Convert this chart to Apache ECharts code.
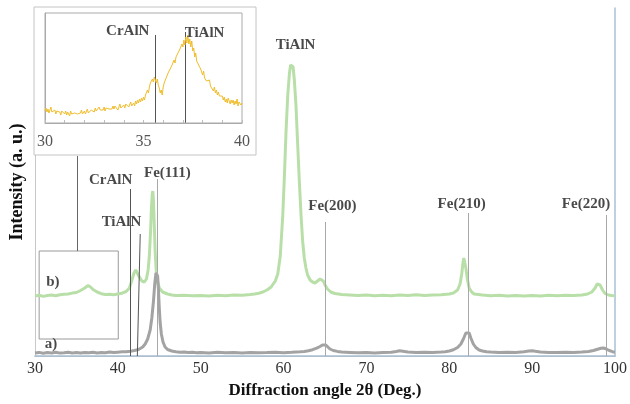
<!DOCTYPE html>
<html>
<head>
<meta charset="utf-8">
<script src="https://cdn.jsdelivr.net/npm/echarts@6/dist/echarts.min.js"></script>
<style>html,body{margin:0;padding:0;background:#fff}#c{width:630px;height:404px}</style>
</head>
<body>
<div id="c"></div>
<script>
// ---- data (2θ in degrees, intensity in arbitrary units) ----
const angleA = [30,30.5,31,31.5,32,32.5,33,33.5,34,34.5,35,35.5,36,36.5,37,37.5,38,38.5,39,39.5,40,40.5,41,41.5,42,42.5,43,43.3,43.6,43.9,44.1,44.3,44.45,44.6,44.7,44.8,44.9,45.0,45.1,45.25,45.45,45.7,46,46.5,47,47.5,48,48.5,49,49.5,50,51,52,53,54,55,56,57,58,59,60,61,62,62.5,63,63.5,64,64.4,64.7,64.9,65.1,65.3,65.6,66,66.5,67,68,69,70,71,72,73,73.6,74,74.4,75,76,77,78,79,79.5,80,80.5,81,81.4,81.7,82,82.2,82.4,82.6,82.9,83.2,83.6,84,84.5,85,86,87,88,89,89.6,90,90.4,91,92,93,94,95,96,96.8,97.4,97.9,98.3,98.6,98.9,99.3,99.7,100];
const intensityA = [3,3.6,2.8,3.4,3,3.7,2.9,3.3,3.8,3.1,3.5,2.9,3.6,3.2,3.8,3.1,3.6,3.3,3.9,3.4,3.8,4.2,4.3,4.8,5.5,6.5,9,12,17,26,38,55,72,83,85,80,66,48,34,22,14,9,6.5,5,4.3,3.8,4,3.4,3.8,3.2,3.6,3.1,3.7,3.2,3.5,3,3.6,3.2,3.4,3.8,3.3,3.7,4.2,4.5,5.2,6.3,7.8,9.5,11,12.5,11,9,7,5.5,4.6,4,3.6,3.2,3.5,3.1,3.6,3.8,4.6,5.2,4.8,3.9,3.4,3.7,3.4,3.9,4.3,5,6.2,8.5,12,17,23,25,23,18,12,8.5,6,5,4.3,3.9,3.5,3.8,3.6,4.3,5,5.3,4.8,4.1,3.6,3.4,3.8,3.5,4,4.6,5.5,6.8,7.8,8,7.2,5.5,4.3,3.8];

const angleB = [30,30.5,31,31.5,32,32.5,33,33.5,34,34.5,35,35.5,36,36.4,36.7,37,37.5,38,38.5,39,39.5,40,40.5,41,41.4,41.7,41.95,42.15,42.35,42.6,42.9,43.2,43.45,43.65,43.8,43.95,44.05,44.15,44.22,44.3,44.4,44.5,44.62,44.8,45.0,45.4,46,46.5,47,48,49,50,51,52,53,54,55,56,56.5,57,57.5,58,58.5,59,59.3,59.6,59.9,60.1,60.3,60.5,60.7,60.85,61.0,61.15,61.3,61.5,61.7,61.9,62.1,62.3,62.5,62.7,62.9,63.2,63.5,63.8,64.1,64.4,64.6,64.8,65.0,65.3,65.7,66.2,67,68,69,70,71,72,73,74,75,76,77,78,79,80,80.5,81,81.3,81.5,81.65,81.75,81.85,82.0,82.2,82.4,82.7,83,84,85,86,87,88,89,90,91,92,93,94,95,96,96.7,97.2,97.6,97.85,98.0,98.2,98.5,98.8,99.2,99.6,100];
const intensityB = [60,60.8,59.6,60.5,61,60.3,61.2,61.8,62,62.9,63.5,65.5,68,70.5,69,66.5,64,62.3,61.5,61.8,61.2,62,62.8,64.5,68,76,83,86,84,79,75,74,77,86,100,125,148,162,165,155,130,105,86,74,68,64,62,61,60.5,60.8,60.2,60.6,60,60.7,60.3,60.9,60.8,61.5,62,62.8,64,66,69,75,82,100,140,180,225,260,282,291,293,289,276,250,212,175,142,115,98,88,81,76,74,73,75,77,77.5,75,71,67,64,62.5,61.5,61,60.4,61,60.3,60.8,60.2,61,60.5,61.2,60.6,61,61.3,62,63,66,72,82,93,98,96,88,76,68,64,62,61,60.3,60.8,60,60.6,60.1,60.5,60,60.7,60.2,60.8,60.4,61,62,64,68,72,73,71,66,62.5,61,60.5,60.3];

// inset: 30–40° at 0.05° steps
const insetStart = 30, insetStep = 0.05;
const insetIntensity = [
12,15,11,14,10,13,16,11,13,10,
13,9,12,10,14,11,8,12,10,13,
9,12,8,11,10,7,12,9,11,8,
10,8,12,9,11,7,10,13,9,11,
12,9,11,14,10,12,9,13,11,14,
11,15,12,14,10,16,13,12,15,13,
16,12,15,13,17,14,12,16,14,17,
14,17,15,18,13,16,19,15,17,14,
18,15,19,17,20,16,18,21,17,19,
20,17,22,19,23,20,24,21,25,22,
26,23,28,27,33,30,36,40,38,44,
41,46,43,40,44,38,35,30,33,28,
36,40,38,45,44,50,48,54,52,58,
57,63,60,66,64,70,68,74,72,79,
76,83,78,86,80,88,79,84,76,82,
72,75,66,70,62,64,58,60,54,56,
48,52,45,47,42,44,40,43,37,39,
35,32,36,30,33,28,31,27,29,26,
27,23,26,21,24,20,25,22,19,23,
20,23,18,22,19,24,17,21,23,18,
20];

// reference peak lines (main plot)
const refNames = ['CrAlN','TiAlN','Fe(111)','Fe(200)','Fe(210)','Fe(220)'];
const refAngleBottom = [41.45,42.35,44.75,65.05,82.3,98.9];
const refAngleTop = [41.45,42.7,44.75,65.05,82.3,98.9];
const refTop = [167,122,177,134,143,141];
const refDark = [true,true,false,false,false,false];

// annotation texts
const labelTexts = ['CrAlN','TiAlN','Fe(111)','TiAlN','Fe(200)','Fe(210)','Fe(220)','b)','a)'];
const labelX = [39.12,40.44,45.97,61.45,65.9,81.5,96.5,32.16,31.92];
const labelY = [176,134,183,311,150,152,152,74,12];

// inset reference lines & labels
const insetRefAngle = [35.6,37.1];
const insetRefTop = [88,91];
const insetLabelX = [34.2,38.1];
const insetLabelY = [92,90];

// zoom window drawn on main plot
const zoomBox = {x0:30.5, x1:40.05, y0:17, y1:105};
const zoomLinkX = 35.05, zoomLinkTop = 200;

// ---- build ----
const zip = (xs, ys) => xs.map((x,i)=>[x, ys[i]]);
const insetData = insetIntensity.map((v,i)=>[+(insetStart + i*insetStep).toFixed(2), v]);
const serif = '"Liberation Serif","Times New Roman",serif';

const refLines = refNames.map((n,i)=>[
  {coord:[refAngleBottom[i],0], lineStyle:{color: refDark[i]?'#555':'#a8a8a8', width:1, type:'solid'}},
  {coord:[refAngleTop[i],refTop[i]]}
]);
refLines.push([{coord:[zoomLinkX,zoomBox.y1], lineStyle:{color:'#666',width:1,type:'solid'}},{coord:[zoomLinkX,zoomLinkTop]}]);

const chart = echarts.init(document.getElementById('c'));
chart.setOption({
  animation:false,
  backgroundColor:'#fff',
  graphic:[{type:'rect', shape:{x:34,y:7,width:222,height:148}, style:{fill:'#fff',stroke:'#c4c4c4',lineWidth:1}, z:5}],
  grid:[
    {left:34, right:13, top:8, bottom:48},
    {left:45, top:13, width:197, height:110, show:true, borderColor:'#aaa', borderWidth:1, z:10}
  ],
  xAxis:[
    {gridIndex:0, type:'value', min:30, max:100, interval:10,
     axisLine:{lineStyle:{color:'#bdbdbd'}}, axisTick:{show:false}, splitLine:{show:false},
     axisLabel:{color:'#333', fontFamily:serif, fontSize:16, margin:5},
     name:'Diffraction angle 2θ (Deg.)', nameLocation:'middle', nameGap:25,
     nameTextStyle:{fontFamily:serif, fontWeight:'bold', fontSize:17, color:'#111'}},
    {gridIndex:1, type:'value', min:30, max:40, interval:1, z:10,
     axisLine:{lineStyle:{color:'#aaa'}}, axisTick:{inside:true, length:3, lineStyle:{color:'#bbb'}}, splitLine:{show:false},
     axisLabel:{color:'#555', fontFamily:serif, fontSize:16, margin:11, formatter:v=> (v%5===0? String(v):'')}},
    {gridIndex:0, type:'value', min:30, max:100, position:'top',
     axisLine:{lineStyle:{color:'#a8c0d4', width:1.5}}, axisTick:{show:false}, axisLabel:{show:false}, splitLine:{show:false}}
  ],
  yAxis:[
    {gridIndex:0, type:'value', min:0, max:348,
     axisLine:{show:true, lineStyle:{color:'#c8c8c8'}}, axisTick:{show:false}, axisLabel:{show:false}, splitLine:{show:false},
     name:'Intensity (a. u.)', nameLocation:'middle', nameGap:9,
     nameTextStyle:{fontFamily:serif, fontWeight:'bold', fontSize:18, color:'#111'}},
    {gridIndex:1, type:'value', min:0, max:110, z:10,
     axisLine:{show:true, lineStyle:{color:'#aaa'}}, axisTick:{show:false}, axisLabel:{show:false}, splitLine:{show:false}},
    {gridIndex:0, type:'value', min:0, max:348, position:'right',
     axisLine:{show:true, lineStyle:{color:'#a8c0d4', width:1.5}}, axisTick:{show:false}, axisLabel:{show:false}, splitLine:{show:false}}
  ],
  series:[
    {name:'b)', type:'line', xAxisIndex:0, yAxisIndex:0, data:zip(angleB,intensityB), showSymbol:false,
     lineStyle:{color:'#b9dfa8', width:3}, z:2,
     markArea:{silent:true, itemStyle:{color:'rgba(0,0,0,0)', borderColor:'#9a9a9a', borderWidth:1},
       data:[[{coord:[zoomBox.x0,zoomBox.y0]},{coord:[zoomBox.x1,zoomBox.y1]}]]}},
    {name:'a)', type:'line', xAxisIndex:0, yAxisIndex:0, data:zip(angleA,intensityA), showSymbol:false,
     lineStyle:{color:'#a3a3a3', width:3}, z:3},
    {name:'refs', type:'line', xAxisIndex:0, yAxisIndex:0, data:[], z:4,
     markLine:{silent:true, symbol:['none','none'], label:{show:false}, data:refLines}},
    {name:'labels', type:'scatter', xAxisIndex:0, yAxisIndex:0, symbolSize:0, z:4,
     data:labelTexts.map((t,i)=>({value:[labelX[i],labelY[i]], name:t})),
     label:{show:true, position:'inside', formatter:p=>p.name, fontFamily:serif, fontWeight:'bold', fontSize:15, color:'#1a1a1a'}},
    {name:'inset', type:'line', xAxisIndex:1, yAxisIndex:1, data:insetData, showSymbol:false, z:12,
     lineStyle:{color:'#f0bd2a', width:1},
     markLine:{silent:true, symbol:['none','none'], label:{show:false}, lineStyle:{color:'#555', width:1, type:'solid'},
       data:insetRefAngle.map((a,i)=>[{coord:[a,0]},{coord:[a,insetRefTop[i]]}])}},
    {name:'insetLabels', type:'scatter', xAxisIndex:1, yAxisIndex:1, symbolSize:0, z:12,
     data:['CrAlN','TiAlN'].map((t,i)=>({value:[insetLabelX[i],insetLabelY[i]], name:t})),
     label:{show:true, position:'inside', formatter:p=>p.name, fontFamily:serif, fontWeight:'bold', fontSize:15, color:'#1a1a1a'}}
  ]
});
</script>
</body>
</html>
